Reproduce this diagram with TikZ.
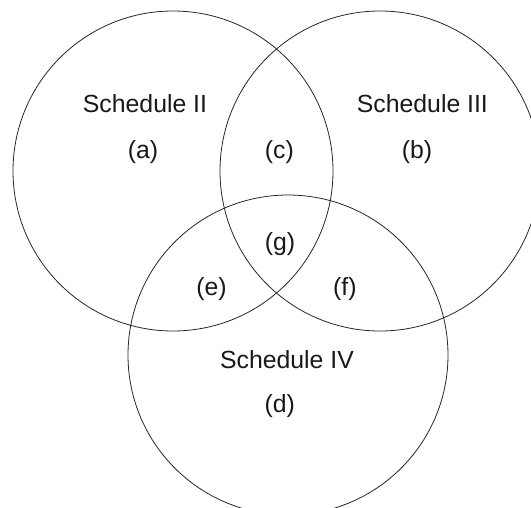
\documentclass[tikz,border=0pt]{standalone}
\usepackage{fontspec}
\setmainfont{Liberation Sans}
\begin{document}
\begin{tikzpicture}[x=1pt,y=-1pt,
  venn/.style={circle, draw=black!85, line width=0.8pt, minimum size=320pt, inner sep=0pt},
  lbl/.style={font=\fontsize{24.8}{30}\selectfont, inner sep=0pt, text=black!90}]
\useasboundingbox (0,0) rectangle (531,507);
\clip (0,0) rectangle (531,507);
\node[venn] (cII) at (173,171) {};
\node[venn] (cIII) at (380,171) {};
\node[venn] (cIV) at (288,355) {};
\node[lbl, anchor=base] (tII) at (145,112.4) {Schedule II};
\node[lbl, anchor=base] (tIII) at (422.4,112.4) {Schedule III};
\node[lbl, anchor=base] (tIV) at (287,368) {Schedule IV};
\node[lbl] (a) at (143,152.5) {(a)};
\node[lbl] (c) at (279.4,152.5) {(c)};
\node[lbl] (b) at (417,152.5) {(b)};
\node[lbl] (g) at (280,243.8) {(g)};
\node[lbl] (e) at (211.5,289.5) {(e)};
\node[lbl] (f) at (344.8,289.5) {(f)};
\node[lbl] (d) at (279.7,406) {(d)};
\end{tikzpicture}
\end{document}
